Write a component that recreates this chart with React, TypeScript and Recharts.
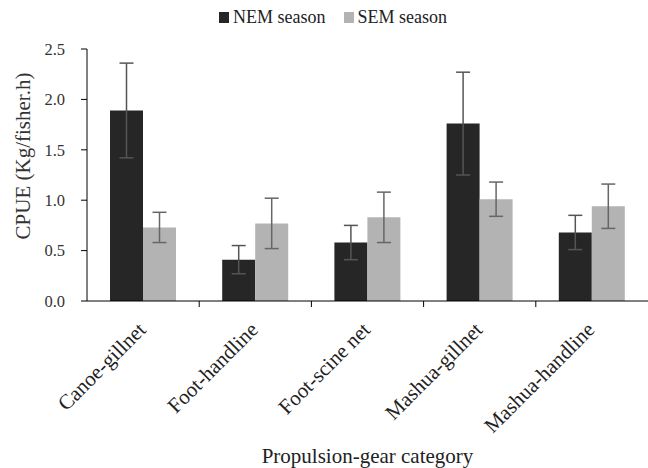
import React from "react";
import {
  BarChart,
  Bar,
  XAxis,
  YAxis,
  ErrorBar,
  Legend,
} from "recharts";

const categories = [
  "Canoe-gillnet",
  "Foot-handline",
  "Foot-scine net",
  "Mashua-gillnet",
  "Mashua-handline",
];
const nemValues = [1.89, 0.41, 0.58, 1.76, 0.68];
const nemErrors = [0.47, 0.14, 0.17, 0.51, 0.17];
const semValues = [0.73, 0.77, 0.83, 1.01, 0.94];
const semErrors = [0.15, 0.25, 0.25, 0.17, 0.22];
const yTicks = [0, 0.5, 1, 1.5, 2, 2.5];

const data = categories.map((cat, i) => ({
  cat,
  nem: nemValues[i],
  nemErr: nemErrors[i],
  sem: semValues[i],
  semErr: semErrors[i],
}));

const FONT = "Liberation Serif";
const NEM_COLOR = "#262626";
const SEM_COLOR = "#b3b3b3";

const W = 648;
const H = 468;
const LEFT = 87;
const BAND = (W - LEFT) / categories.length;

function CategoryTick({ x, y, payload, index }: any) {
  const ax = x + 4;
  const ay = y + 30;
  return (
    <g>
      {index < categories.length - 1 && (
        <line
          x1={x + BAND / 2}
          x2={x + BAND / 2}
          y1={y}
          y2={y + 6}
          stroke="#000"
        />
      )}
      <text
        x={ax}
        y={ay}
        textAnchor="end"
        transform={`rotate(-45 ${ax} ${ay})`}
        style={{ fontFamily: FONT, fontSize: 21 }}
        fill="#222"
      >
        {payload.value}
      </text>
    </g>
  );
}

function LegendContent() {
  const items = [
    { label: "NEM season", color: NEM_COLOR },
    { label: "SEM season", color: SEM_COLOR },
  ];
  return (
    <div
      style={{
        display: "flex",
        justifyContent: "center",
        gap: 18,
        fontFamily: FONT,
        fontSize: 18,
        color: "#222",
        lineHeight: "20px",
        paddingLeft: 18,
      }}
    >
      {items.map((it) => (
        <div key={it.label} style={{ display: "flex", alignItems: "center" }}>
          <span
            style={{
              display: "inline-block",
              width: 10,
              height: 11,
              background: it.color,
              marginRight: 4,
            }}
          />
          {it.label}
        </div>
      ))}
    </div>
  );
}

export default function App() {
  return (
    <div
      style={{
        position: "absolute",
        left: 0,
        top: 0,
        background: "#fff",
        fontFamily: FONT,
      }}
    >
      <BarChart
        width={W}
        height={H}
        data={data}
        margin={{ top: 49, right: 0, bottom: 0, left: 0 }}
        barCategoryGap="20.5%"
        barGap={0}
        style={{ fontFamily: FONT }}
      >
        <Legend
          verticalAlign="middle"
          align="center"
          layout="horizontal"
          content={<LegendContent />}
          wrapperStyle={{ top: 7, left: 0, width: W }}
        />
        <XAxis
          dataKey="cat"
          interval={0}
          height={H - 49 - 252}
          tickLine={false}
          tickSize={0}
          tickMargin={0}
          axisLine={{ stroke: "#000" }}
          tick={<CategoryTick />}
          label={{
            value: "Propulsion-gear category",
            position: "insideBottom",
            offset: 5,
            style: { fontFamily: FONT, fontSize: 21 },
            fill: "#222",
          }}
        />
        <YAxis
          width={LEFT}
          domain={[0, 2.5]}
          ticks={yTicks}
          interval={0}
          tickFormatter={(v: number) => v.toFixed(1)}
          axisLine={{ stroke: "#000" }}
          tickLine={{ stroke: "#000" }}
          tickSize={6}
          tickMargin={16}
          tick={{ style: { fontFamily: FONT, fontSize: 16.5 }, fill: "#333" }}
          label={{
            value: "CPUE (Kg/fisher.h)",
            angle: -90,
            position: "insideLeft",
            offset: 23,
            dy: -19,
            style: { fontFamily: FONT, fontSize: 21, textAnchor: "middle" },
            fill: "#333",
          }}
        />
        <Bar dataKey="nem" fill={NEM_COLOR} isAnimationActive={false}>
          <ErrorBar dataKey="nemErr" width={7} stroke="#555" strokeWidth={1.5} />
        </Bar>
        <Bar dataKey="sem" fill={SEM_COLOR} isAnimationActive={false}>
          <ErrorBar dataKey="semErr" width={7} stroke="#666" strokeWidth={1.5} />
        </Bar>
      </BarChart>
    </div>
  );
}
